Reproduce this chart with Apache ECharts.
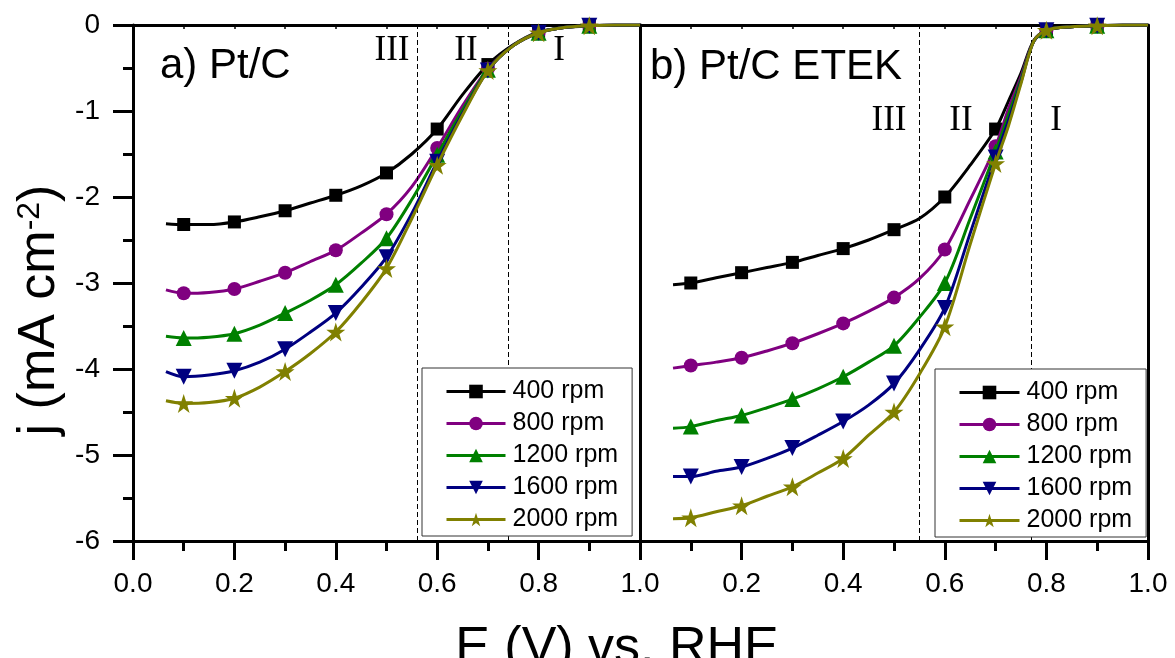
<!DOCTYPE html>
<html>
<head>
<meta charset="utf-8">
<script src="https://cdn.jsdelivr.net/npm/echarts@6/dist/echarts.min.js"></script>
<style>
  html, body { margin: 0; padding: 0; background: #fff; }
  #chart { width: 1175px; height: 658px; }
</style>
</head>
<body>
<div id="chart"></div>
<script>
// ---- Data -------------------------------------------------------------
// Electrode potential E (V vs. RHE) at which each polarisation curve is sampled
const E_PTC  = [0.065, 0.1, 0.15, 0.2, 0.25, 0.3, 0.35, 0.4, 0.45, 0.5, 0.55, 0.6, 0.65, 0.7, 0.75, 0.8, 0.85, 0.9, 0.95, 1.0];
const E_ETEK = [0.065, 0.1, 0.15, 0.2, 0.25, 0.3, 0.35, 0.4, 0.45, 0.5, 0.55, 0.6, 0.65, 0.7, 0.725, 0.75, 0.775, 0.8, 0.85, 0.9, 0.95, 1.0];
// Potentials that carry a symbol
const MARKER_E = [0.1, 0.2, 0.3, 0.4, 0.5, 0.6, 0.7, 0.8, 0.9];

// Rotation rates
const RPM = ['400 rpm', '800 rpm', '1200 rpm', '1600 rpm', '2000 rpm'];

// Current density j (mA cm^-2), panel a) Pt/C
const PTC_400  = [-2.31, -2.32, -2.32, -2.29, -2.23, -2.16, -2.07, -1.98, -1.87, -1.72, -1.50, -1.21, -0.81, -0.46, -0.23, -0.08, -0.03, -0.01, 0, 0];
const PTC_800  = [-3.08, -3.12, -3.11, -3.07, -2.98, -2.88, -2.75, -2.62, -2.42, -2.20, -1.88, -1.43, -0.94, -0.51, -0.24, -0.09, -0.03, -0.01, 0, 0];
const PTC_1200 = [-3.62, -3.64, -3.63, -3.59, -3.49, -3.35, -3.20, -3.02, -2.77, -2.48, -2.03, -1.51, -0.99, -0.52, -0.24, -0.09, -0.03, -0.01, 0, 0];
const PTC_1600 = [-4.03, -4.09, -4.07, -4.02, -3.92, -3.77, -3.57, -3.35, -3.05, -2.70, -2.19, -1.59, -1.03, -0.53, -0.24, -0.09, -0.03, -0.01, 0, 0];
const PTC_2000 = [-4.37, -4.40, -4.39, -4.34, -4.21, -4.03, -3.82, -3.57, -3.23, -2.83, -2.25, -1.63, -1.05, -0.53, -0.24, -0.09, -0.03, -0.01, 0, 0];

// Current density j (mA cm^-2), panel b) Pt/C ETEK
const ETEK_400  = [-3.02, -3.00, -2.94, -2.88, -2.82, -2.76, -2.68, -2.60, -2.50, -2.38, -2.25, -2.00, -1.63, -1.21, -0.89, -0.56, -0.18, -0.06, -0.02, -0.01, 0, 0];
const ETEK_800  = [-3.99, -3.96, -3.92, -3.87, -3.79, -3.70, -3.59, -3.47, -3.33, -3.17, -2.95, -2.61, -2.03, -1.41, -0.98, -0.60, -0.19, -0.06, -0.02, -0.01, 0, 0];
const ETEK_1200 = [-4.69, -4.67, -4.60, -4.54, -4.45, -4.35, -4.23, -4.09, -3.92, -3.73, -3.40, -3.00, -2.25, -1.47, -1.05, -0.63, -0.19, -0.06, -0.02, -0.01, 0, 0];
const ETEK_1600 = [-5.25, -5.25, -5.19, -5.14, -5.04, -4.92, -4.77, -4.61, -4.42, -4.17, -3.78, -3.29, -2.42, -1.54, -1.12, -0.66, -0.19, -0.06, -0.02, -0.01, 0, 0];
const ETEK_2000 = [-5.74, -5.73, -5.66, -5.59, -5.48, -5.37, -5.21, -5.04, -4.77, -4.50, -4.06, -3.51, -2.55, -1.61, -1.18, -0.68, -0.19, -0.06, -0.02, -0.01, 0, 0];

// Boundaries between kinetic regions I / II / III (V)
const REGIONS_PTC  = [0.565, 0.745];
const REGIONS_ETEK = [0.552, 0.765];

// Axis ticks
const X_TICKS = [0.0, 0.2, 0.4, 0.6, 0.8, 1.0];
const Y_TICKS = [0, -1, -2, -3, -4, -5, -6];

// ---- Styling ----------------------------------------------------------
const SANS = '"Liberation Sans", Arial, Helvetica, sans-serif';
const SERIF = '"Liberation Serif", "Times New Roman", serif';
const COLORS = ['#000000', '#800080', '#008000', '#000080', '#808000'];
const STAR = 'path://M50,0 L61.8,35.1 L98.9,35.1 L68.9,56.9 L80.3,91.9 L50,70.2 L19.7,91.9 L31.1,56.9 L1.1,35.1 L38.2,35.1 Z';
const SYMBOLS = ['rect', 'circle', 'triangle', 'triangle', STAR];
const SYMBOL_ROT = [0, 0, 0, 180, 0];
const SYMBOL_SIZE = [13, 14, 16, 16, 19];

const isMarker = x => MARKER_E.some(m => Math.abs(m - x) < 1e-9);
const toData = (E, J) => E.map((x, i) => isMarker(x) ? { value: [x, J[i]] } : { value: [x, J[i]], symbol: 'none' });

function curve(name, idx, E, J, xAxisIndex, yAxisIndex, regions) {
  const s = {
    name: name,
    type: 'line',
    xAxisIndex: xAxisIndex,
    yAxisIndex: yAxisIndex,
    data: toData(E, J),
    smooth: 0.3,
    showAllSymbol: true,
    symbol: SYMBOLS[idx],
    symbolRotate: SYMBOL_ROT[idx],
    symbolSize: SYMBOL_SIZE[idx],
    itemStyle: { color: COLORS[idx] },
    lineStyle: { color: COLORS[idx], width: 3 },
    emphasis: { disabled: true },
    z: 3 + idx
  };
  if (regions) {
    s.markLine = {
      silent: true,
      symbol: ['none', 'none'],
      label: { show: false },
      lineStyle: { color: '#000', width: 1, type: [5, 3] },
      emphasis: { disabled: true },
      data: regions.map(v => ({ xAxis: v }))
    };
  }
  return s;
}

const PTC = [PTC_400, PTC_800, PTC_1200, PTC_1600, PTC_2000];
const ETEK = [ETEK_400, ETEK_800, ETEK_1200, ETEK_1600, ETEK_2000];

const series = [];
PTC.forEach((J, i) => series.push(curve(RPM[i], i, E_PTC, J, 0, 0, i === 0 ? REGIONS_PTC : null)));
ETEK.forEach((J, i) => series.push(curve(RPM[i], i, E_ETEK, J, 1, 2, i === 0 ? REGIONS_ETEK : null)));

const LINE = { color: '#000', width: 3 };

function bottomAxis(grid, showMin) {
  return {
    gridIndex: grid, type: 'value', position: 'bottom',
    min: X_TICKS[0], max: X_TICKS[X_TICKS.length - 1], interval: X_TICKS[1] - X_TICKS[0],
    axisLine: { show: true, onZero: false, lineStyle: LINE },
    axisTick: { show: true, length: 19, lineStyle: LINE },
    minorTick: { show: true, splitNumber: 2, length: 10, lineStyle: LINE },
    splitLine: { show: false }, minorSplitLine: { show: false },
    axisLabel: {
      show: true, margin: 29, fontFamily: SANS, fontSize: 28, color: '#000',
      showMinLabel: showMin, formatter: v => v.toFixed(1)
    }
  };
}
function topAxis(grid) {
  return {
    gridIndex: grid, type: 'value', position: 'top',
    min: 0, max: 1, interval: 0.1,
    axisLine: { show: true, onZero: false, lineStyle: LINE },
    axisTick: { show: true, inside: true, length: 4, lineStyle: { color: '#000', width: 1.5 } },
    splitLine: { show: false }, axisLabel: { show: false }
  };
}
function sideAxis(grid, pos, labels) {
  return {
    gridIndex: grid, type: 'value', position: pos,
    min: Y_TICKS[Y_TICKS.length - 1], max: Y_TICKS[0], interval: Y_TICKS[0] - Y_TICKS[1],
    axisLine: { show: true, onZero: false, lineStyle: LINE },
    axisTick: { show: labels, length: 20, lineStyle: LINE },
    minorTick: { show: labels, splitNumber: 2, length: 10, lineStyle: LINE },
    splitLine: { show: false }, minorSplitLine: { show: false },
    axisLabel: { show: labels, margin: 33, fontFamily: SANS, fontSize: 28, color: '#000', formatter: v => String(v) }
  };
}

function legendAt(left, top, itemWidth) {
  return {
    orient: 'vertical', left: left, top: top,
    data: RPM,
    itemWidth: itemWidth, itemHeight: 17, itemGap: 7,
    padding: [11, 14, 4, 23],
    backgroundColor: '#fff', borderColor: '#333', borderWidth: 1, borderRadius: 0,
    selectedMode: false,
    lineStyle: { width: 3 },
    textStyle: { fontFamily: SANS, fontSize: 25, color: '#000', lineHeight: 25, padding: [0, 0, 0, 2] },
    z: 10
  };
}

const txt = (text, x, y, font, size, extra) => ({
  type: 'text', x: x, y: y, silent: true, z: 20,
  style: Object.assign({ text: text, fontFamily: font, fontSize: size, fill: '#000', align: 'left', verticalAlign: 'middle' }, extra || {})
});

const option = {
  animation: false,
  backgroundColor: '#fff',
  grid: [
    { left: 133, top: 25, width: 507, height: 516 },
    { left: 640, top: 25, width: 508, height: 516 }
  ],
  xAxis: [bottomAxis(0, true), bottomAxis(1, false), topAxis(0), topAxis(1)],
  yAxis: [sideAxis(0, 'left', true), sideAxis(0, 'right', false), sideAxis(1, 'left', false), sideAxis(1, 'right', false)],
  legend: [legendAt(422, 368, 59), legendAt(935, 369, 60)],
  series: series,
  graphic: [
    txt('a) Pt/C', 160, 66, SANS, 42),
    txt('b) Pt/C ETEK', 650, 67, SANS, 42),
    txt('III', 392, 51, SERIF, 35, { align: 'center' }),
    txt('II', 466, 51, SERIF, 35, { align: 'center' }),
    txt('I', 559, 51, SERIF, 35, { align: 'center' }),
    txt('III', 889, 121, SERIF, 35, { align: 'center' }),
    txt('II', 961, 121, SERIF, 35, { align: 'center' }),
    txt('I', 1056, 121, SERIF, 35, { align: 'center' }),
    txt('E (V) vs. RHE', 617, 649, SANS, 52, { align: 'center' }),
    {
      type: 'text', x: 40, y: 310, rotation: Math.PI / 2, silent: true, z: 20,
      style: {
        text: '{a|j (mA cm}{b|-2}{a|)}',
        align: 'center', verticalAlign: 'middle', fill: '#000',
        fontFamily: SANS, fontSize: 52,
        rich: {
          a: { fontFamily: SANS, fontSize: 52, fill: '#000', lineHeight: 52 },
          b: { fontFamily: SANS, fontSize: 32, fill: '#000', verticalAlign: 'top', lineHeight: 40 }
        }
      }
    }
  ]
};

const chart = echarts.init(document.getElementById('chart'), null, { renderer: 'canvas' });
chart.setOption(option);
</script>
</body>
</html>
